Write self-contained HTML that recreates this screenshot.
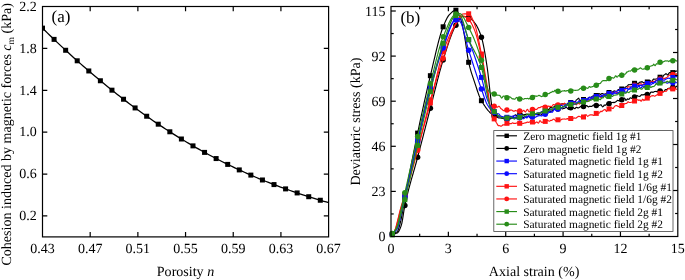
<!DOCTYPE html>
<html>
<head>
<meta charset="utf-8">
<title>Cohesion vs porosity and deviatoric stress vs axial strain</title>
<style>
html, body { margin: 0; padding: 0; background: #ffffff; }
body { width: 685px; height: 280px; overflow: hidden; }
svg { display: block; font-family: 'Liberation Serif', serif; fill: #000; will-change: transform; }
svg text { font-family: "Liberation Serif", serif; fill: #000; text-rendering: geometricPrecision; }
</style>
</head>
<body>
<svg width="685" height="280" viewBox="0 0 685 280">
<rect x="0" y="0" width="685" height="280" fill="#ffffff"/>
<g id="panelA">
<path d="M42.5 28.14 L44.9 30.51 L47.31 32.86 L49.71 35.19 L52.12 37.51 L54.52 39.81 L56.93 42.1 L59.33 44.37 L61.73 46.63 L64.14 48.87 L66.54 51.09 L68.95 53.3 L71.35 55.5 L73.75 57.68 L76.16 59.84 L78.56 61.99 L80.97 64.12 L83.37 66.24 L85.78 68.34 L88.18 70.42 L90.58 72.49 L92.99 74.55 L95.39 76.58 L97.8 78.61 L100.2 80.61 L102.61 82.6 L105.01 84.57 L107.41 86.53 L109.82 88.47 L112.22 90.4 L114.63 92.31 L117.03 94.2 L119.43 96.08 L121.84 97.94 L124.24 99.79 L126.65 101.62 L129.05 103.43 L131.46 105.23 L133.86 107.01 L136.26 108.78 L138.67 110.53 L141.07 112.26 L143.48 113.98 L145.88 115.69 L148.28 117.37 L150.69 119.04 L153.09 120.7 L155.5 122.34 L157.9 123.96 L160.31 125.57 L162.71 127.16 L165.11 128.74 L167.52 130.3 L169.92 131.84 L172.33 133.37 L174.73 134.89 L177.14 136.38 L179.54 137.87 L181.94 139.33 L184.35 140.79 L186.75 142.22 L189.16 143.65 L191.56 145.05 L193.96 146.44 L196.37 147.82 L198.77 149.18 L201.18 150.53 L203.58 151.86 L205.99 153.17 L208.39 154.48 L210.79 155.76 L213.2 157.04 L215.6 158.29 L218.01 159.54 L220.41 160.76 L222.82 161.98 L225.22 163.18 L227.62 164.36 L230.03 165.54 L232.43 166.69 L234.84 167.84 L237.24 168.97 L239.64 170.08 L242.05 171.19 L244.45 172.27 L246.86 173.35 L249.26 174.41 L251.67 175.46 L254.07 176.49 L256.47 177.52 L258.88 178.53 L261.28 179.52 L263.69 180.5 L266.09 181.48 L268.49 182.43 L270.9 183.38 L273.3 184.31 L275.71 185.23 L278.11 186.14 L280.52 187.04 L282.92 187.92 L285.32 188.8 L287.73 189.66 L290.13 190.51 L292.54 191.35 L294.94 192.17 L297.35 192.99 L299.75 193.8 L302.15 194.59 L304.56 195.37 L306.96 196.15 L309.37 196.91 L311.77 197.66 L314.17 198.41 L316.58 199.14 L318.98 199.86 L321.39 200.57 L323.79 201.28 L326.2 201.97 L328.6 202.66" fill="none" stroke="#000" stroke-width="1.3"/>
<clipPath id="clipA"><rect x="42.5" y="6.5" width="286.1" height="230.4"/></clipPath>
<g clip-path="url(#clipA)">
<rect x="40" y="25.64" width="5" height="5" fill="#000"/>
<rect x="51.58" y="36.88" width="5" height="5" fill="#000"/>
<rect x="63.15" y="47.77" width="5" height="5" fill="#000"/>
<rect x="74.72" y="58.3" width="5" height="5" fill="#000"/>
<rect x="86.3" y="68.46" width="5" height="5" fill="#000"/>
<rect x="97.88" y="78.26" width="5" height="5" fill="#000"/>
<rect x="109.45" y="87.68" width="5" height="5" fill="#000"/>
<rect x="121.03" y="96.74" width="5" height="5" fill="#000"/>
<rect x="132.6" y="105.43" width="5" height="5" fill="#000"/>
<rect x="144.18" y="113.74" width="5" height="5" fill="#000"/>
<rect x="155.75" y="121.69" width="5" height="5" fill="#000"/>
<rect x="167.33" y="129.28" width="5" height="5" fill="#000"/>
<rect x="178.9" y="136.5" width="5" height="5" fill="#000"/>
<rect x="190.48" y="143.37" width="5" height="5" fill="#000"/>
<rect x="202.05" y="149.89" width="5" height="5" fill="#000"/>
<rect x="213.63" y="156.06" width="5" height="5" fill="#000"/>
<rect x="225.2" y="161.9" width="5" height="5" fill="#000"/>
<rect x="236.78" y="167.41" width="5" height="5" fill="#000"/>
<rect x="248.35" y="172.6" width="5" height="5" fill="#000"/>
<rect x="259.93" y="177.49" width="5" height="5" fill="#000"/>
<rect x="271.5" y="182.08" width="5" height="5" fill="#000"/>
<rect x="283.08" y="186.39" width="5" height="5" fill="#000"/>
<rect x="294.65" y="190.43" width="5" height="5" fill="#000"/>
<rect x="306.23" y="194.21" width="5" height="5" fill="#000"/>
<rect x="317.8" y="197.75" width="5" height="5" fill="#000"/>
</g>
<rect x="42.5" y="6.5" width="286.1" height="230.4" fill="none" stroke="#000" stroke-width="1.2"/>
<text x="42.5" y="252.6" text-anchor="middle" font-size="14.0">0.43</text>
<path d="M90.18 236.9 v-4.8 M90.18 6.5 v4.8" stroke="#000" stroke-width="1.2"/>
<text x="90.18" y="252.6" text-anchor="middle" font-size="14.0">0.47</text>
<path d="M137.87 236.9 v-4.8 M137.87 6.5 v4.8" stroke="#000" stroke-width="1.2"/>
<text x="137.87" y="252.6" text-anchor="middle" font-size="14.0">0.51</text>
<path d="M185.55 236.9 v-4.8 M185.55 6.5 v4.8" stroke="#000" stroke-width="1.2"/>
<text x="185.55" y="252.6" text-anchor="middle" font-size="14.0">0.55</text>
<path d="M233.23 236.9 v-4.8 M233.23 6.5 v4.8" stroke="#000" stroke-width="1.2"/>
<text x="233.23" y="252.6" text-anchor="middle" font-size="14.0">0.59</text>
<path d="M280.92 236.9 v-4.8 M280.92 6.5 v4.8" stroke="#000" stroke-width="1.2"/>
<text x="280.92" y="252.6" text-anchor="middle" font-size="14.0">0.63</text>
<text x="328.6" y="252.6" text-anchor="middle" font-size="14.0">0.67</text>
<text x="36.8" y="10.8" text-anchor="end" font-size="14.0">2.2</text>
<path d="M42.5 48.39 h4.8 M328.6 48.39 h-4.8" stroke="#000" stroke-width="1.2"/>
<text x="36.8" y="52.69" text-anchor="end" font-size="14.0">1.8</text>
<path d="M42.5 90.28 h4.8 M328.6 90.28 h-4.8" stroke="#000" stroke-width="1.2"/>
<text x="36.8" y="94.58" text-anchor="end" font-size="14.0">1.4</text>
<path d="M42.5 132.17 h4.8 M328.6 132.17 h-4.8" stroke="#000" stroke-width="1.2"/>
<text x="36.8" y="136.47" text-anchor="end" font-size="14.0">1.0</text>
<path d="M42.5 174.06 h4.8 M328.6 174.06 h-4.8" stroke="#000" stroke-width="1.2"/>
<text x="36.8" y="178.36" text-anchor="end" font-size="14.0">0.6</text>
<path d="M42.5 215.95 h4.8 M328.6 215.95 h-4.8" stroke="#000" stroke-width="1.2"/>
<text x="36.8" y="220.25" text-anchor="end" font-size="14.0">0.2</text>
<text x="185.5" y="275.5" text-anchor="middle" font-size="14.05">Porosity <tspan font-style="italic">n</tspan></text>
<text transform="translate(11.2 134.3) rotate(-90)" text-anchor="middle" font-size="14.05">Cohesion induced by magnetic forces <tspan font-style="italic">c</tspan><tspan font-size="9.5" dy="2.8">m</tspan><tspan dy="-2.8"> (kPa)</tspan></text>
<text x="51.5" y="22" font-size="17.0">(a)</text>
</g>
<g id="panelB">
<clipPath id="clipB"><rect x="388" y="6.5" width="289.8" height="233"/></clipPath>
<g clip-path="url(#clipB)">
<path d="M391.2 236.4 L391.95 234.8 L392.7 233.95 L393.45 233.46 L394.2 233.12 L394.95 232.86 L395.7 232.57 L396.45 232.18 L397.2 231.6 L397.95 230.47 L398.7 228.51 L399.45 225.97 L400.2 223.15 L400.95 220.13 L401.7 216.43 L402.45 212.19 L403.2 207.69 L403.95 203.16 L404.7 198.86 L405.45 194.86 L406.2 190.89 L406.95 186.94 L407.7 183 L408.45 179.08 L409.2 175.18 L409.95 171.3 L410.7 167.44 L411.45 163.61 L412.2 159.8 L412.95 156.01 L413.7 152.25 L414.45 148.53 L415.2 144.83 L415.95 141.16 L416.7 137.52 L417.45 133.91 L418.2 130.34 L418.95 126.78 L419.7 123.24 L420.45 119.72 L421.2 116.22 L421.95 112.75 L422.7 109.3 L423.45 105.88 L424.2 102.48 L424.95 99.12 L425.7 95.78 L426.45 92.47 L427.2 89.2 L427.95 85.95 L428.7 82.75 L429.45 79.58 L430.2 76.45 L430.95 73.32 L431.7 70.15 L432.45 66.94 L433.2 63.71 L433.95 60.48 L434.7 57.26 L435.45 54.06 L436.2 50.92 L436.95 47.83 L437.7 44.82 L438.45 41.9 L439.2 39.1 L439.95 36.41 L440.7 33.88 L441.45 31.5 L442.2 29.29 L442.95 27.28 L443.7 25.42 L444.45 23.62 L445.2 21.88 L445.95 20.24 L446.7 18.72 L447.45 17.34 L448.2 16.13 L448.95 15.11 L449.7 14.3 L450.45 13.56 L451.2 12.84 L451.95 12.16 L452.7 11.55 L453.45 11.03 L454.2 10.62 L454.95 10.34 L455.7 10.21 L456.45 10.37 L457.2 11.1 L457.95 12.31 L458.7 13.89 L459.45 15.75 L460.2 17.77 L460.95 19.86 L461.7 22.32 L462.45 25.49 L463.2 29.15 L463.95 33.08 L464.7 37.09 L465.45 41.73 L466.2 46.89 L466.95 52.15 L467.7 57.1 L468.45 61.31 L469.2 64.63 L469.95 67.6 L470.7 70.3 L471.45 72.8 L472.2 75.15 L472.95 77.41 L473.7 79.62 L474.45 81.85 L475.2 84.13 L475.95 86.44 L476.7 88.75 L477.45 91.01 L478.2 93.18 L478.95 95.24 L479.7 97.14 L480.45 98.85 L481.2 100.32 L481.95 101.59 L482.7 102.81 L483.45 104.01 L484.2 105.17 L484.95 106.29 L485.7 107.37 L486.45 108.4 L487.2 109.38 L487.95 110.31 L488.7 111.18 L489.45 111.98 L490.2 112.72 L490.95 113.39 L491.7 113.99 L492.45 114.51 L493.2 114.95 L493.95 115.31 L494.7 115.6 L495.45 115.87 L496.2 116.14 L496.95 116.4 L497.7 116.24 L498.45 116.24 L499.2 116.16 L499.95 116.76 L500.7 117.79 L501.45 118.2 L502.2 118.32 L502.95 118.04 L503.7 117.59 L504.45 117.63 L505.2 117.83 L505.95 118.02 L506.7 118.01 L507.45 117.63 L508.2 117.13 L508.95 117.71 L509.7 118.43 L510.45 117.5 L511.2 116.78 L511.95 117.49 L512.7 117.39 L513.45 116.15 L514.2 115.63 L514.95 115.14 L515.7 114.81 L516.45 115.42 L517.2 115.49 L517.95 114.91 L518.7 114.66 L519.45 114.72 L520.2 114.55 L520.95 114.17 L521.7 113.67 L522.45 114.01 L523.2 114.86 L523.95 114.74 L524.7 114.56 L525.45 114.46 L526.2 114.1 L526.95 114.24 L527.7 114.58 L528.45 114.39 L529.2 114.23 L529.95 114.66 L530.7 115.18 L531.45 115.09 L532.2 114.47 L532.95 113.56 L533.7 113.39 L534.45 114.35 L535.2 114.55 L535.95 113.95 L536.7 113.9 L537.45 114.03 L538.2 113.92 L538.95 113.36 L539.7 112.92 L540.45 112.61 L541.2 111.94 L541.95 111.98 L542.7 112.21 L543.45 112.34 L544.2 112.65 L544.95 111.72 L545.7 109.75 L546.45 109.16 L547.2 109.64 L547.95 109.32 L548.7 109.34 L549.45 109.12 L550.2 107.55 L550.95 106.97 L551.7 107.82 L552.45 107.99 L553.2 107.57 L553.95 107.11 L554.7 106.23 L555.45 105.71 L556.2 105.8 L556.95 105.28 L557.7 105.04 L558.45 105.66 L559.2 105.85 L559.95 105.34 L560.7 104.56 L561.45 104.04 L562.2 103.76 L562.95 103.82 L563.7 103.98 L564.45 103.85 L565.2 104.01 L565.95 104.59 L566.7 104.38 L567.45 103.38 L568.2 103.23 L568.95 103.15 L569.7 102.32 L570.45 101.63 L571.2 101.93 L571.95 102.47 L572.7 102.21 L573.45 101.79 L574.2 101.86 L574.95 102.07 L575.7 101.04 L576.45 99.74 L577.2 99.45 L577.95 98.63 L578.7 98.15 L579.45 99.67 L580.2 100.94 L580.95 100.22 L581.7 99.06 L582.45 99.24 L583.2 99.99 L583.95 99.8 L584.7 99.22 L585.45 98.93 L586.2 98.94 L586.95 99.09 L587.7 98.82 L588.45 97.96 L589.2 97.35 L589.95 97.28 L590.7 97.29 L591.45 97.04 L592.2 96.28 L592.95 96.05 L593.7 95.83 L594.45 95.76 L595.2 96.8 L595.95 96.75 L596.7 95.75 L597.45 95.6 L598.2 94.7 L598.95 93.53 L599.7 94.03 L600.45 94.53 L601.2 94.03 L601.95 93.47 L602.7 93.46 L603.45 93.95 L604.2 94.34 L604.95 93.98 L605.7 93.81 L606.45 93.82 L607.2 92.95 L607.95 91.88 L608.7 91.89 L609.45 93.03 L610.2 93.44 L610.95 92.99 L611.7 92.49 L612.45 91.95 L613.2 91.53 L613.95 91.13 L614.7 90.9 L615.45 91.27 L616.2 91.69 L616.95 91.19 L617.7 90.22 L618.45 89.53 L619.2 89.76 L619.95 90.46 L620.7 90.11 L621.45 89.19 L622.2 88.37 L622.95 87.82 L623.7 88.12 L624.45 88.22 L625.2 87.44 L625.95 86.78 L626.7 86.52 L627.45 85.81 L628.2 84.92 L628.95 84.63 L629.7 84.76 L630.45 84.73 L631.2 84.33 L631.95 84.57 L632.7 84.7 L633.45 83.62 L634.2 82.99 L634.95 83.17 L635.7 82.9 L636.45 82.6 L637.2 83.49 L637.95 84.06 L638.7 83.17 L639.45 82.27 L640.2 82.14 L640.95 82.18 L641.7 81.67 L642.45 81.92 L643.2 82.62 L643.95 82.56 L644.7 83.11 L645.45 83.48 L646.2 82.89 L646.95 82.98 L647.7 83.12 L648.45 82.04 L649.2 80.81 L649.95 80.45 L650.7 81.17 L651.45 81.95 L652.2 81.24 L652.95 79.74 L653.7 79.04 L654.45 79.15 L655.2 79.23 L655.95 78.95 L656.7 78.74 L657.45 78.4 L658.2 77.84 L658.95 77.58 L659.7 77.42 L660.45 77.21 L661.2 77.56 L661.95 77.85 L662.7 77.09 L663.45 75.66 L664.2 74.83 L664.95 74.57 L665.7 73.71 L666.45 73.72 L667.2 74.82 L667.95 74.85 L668.7 73.63 L669.45 72.62 L670.2 72.59 L670.95 72.9 L671.7 73.76 L672.45 74.22 L673.2 73.02 L673.95 71.55 L674.7 71.14 L675.45 71.41 L676.2 71.17 L676.95 70.71" fill="none" stroke="#000000" stroke-width="1.15" stroke-linejoin="round"/>
<rect x="389.8" y="231.8" width="5" height="5" fill="#000000"/>
<rect x="402.36" y="195.5" width="5" height="5" fill="#000000"/>
<rect x="415.12" y="130.6" width="5" height="5" fill="#000000"/>
<rect x="427.88" y="73.2" width="5" height="5" fill="#000000"/>
<rect x="440.64" y="24.3" width="5" height="5" fill="#000000"/>
<rect x="453.4" y="7.7" width="5" height="5" fill="#000000"/>
<rect x="466.16" y="59.8" width="5" height="5" fill="#000000"/>
<rect x="478.92" y="98.2" width="5" height="5" fill="#000000"/>
<rect x="491.68" y="112.9" width="5" height="5" fill="#000000"/>
<rect x="504.44" y="115.8" width="5" height="5" fill="#000000"/>
<rect x="517.2" y="112.3" width="5" height="5" fill="#000000"/>
<rect x="529.96" y="111.7" width="5" height="5" fill="#000000"/>
<rect x="542.72" y="108.1" width="5" height="5" fill="#000000"/>
<rect x="555.48" y="103.5" width="5" height="5" fill="#000000"/>
<rect x="568.24" y="100" width="5" height="5" fill="#000000"/>
<rect x="581" y="97" width="5" height="5" fill="#000000"/>
<rect x="593.76" y="93" width="5" height="5" fill="#000000"/>
<rect x="606.52" y="90" width="5" height="5" fill="#000000"/>
<rect x="619.28" y="86.5" width="5" height="5" fill="#000000"/>
<rect x="632.04" y="80.8" width="5" height="5" fill="#000000"/>
<rect x="644.8" y="79.5" width="5" height="5" fill="#000000"/>
<rect x="657.56" y="74.7" width="5" height="5" fill="#000000"/>
<rect x="670.32" y="70.1" width="5" height="5" fill="#000000"/>
<path d="M391.2 236.4 L391.95 234.72 L392.7 234.11 L393.45 233.85 L394.2 233.69 L394.95 233.58 L395.7 233.47 L396.45 233.31 L397.2 233.05 L397.95 232.49 L398.7 231.46 L399.45 230.01 L400.2 228.24 L400.95 226.21 L401.7 223.86 L402.45 220.13 L403.2 215.44 L403.95 210.53 L404.7 206.18 L405.45 202.68 L406.2 199.36 L406.95 196.18 L407.7 193.12 L408.45 190.18 L409.2 187.33 L409.95 184.56 L410.7 181.85 L411.45 179.2 L412.2 176.57 L412.95 173.97 L413.7 171.38 L414.45 168.77 L415.2 166.14 L415.95 163.47 L416.7 160.74 L417.45 157.95 L418.2 155.09 L418.95 152.22 L419.7 149.34 L420.45 146.46 L421.2 143.57 L421.95 140.68 L422.7 137.78 L423.45 134.88 L424.2 131.98 L424.95 129.08 L425.7 126.18 L426.45 123.29 L427.2 120.4 L427.95 117.51 L428.7 114.63 L429.45 111.75 L430.2 108.89 L430.95 106.01 L431.7 103.1 L432.45 100.16 L433.2 97.19 L433.95 94.21 L434.7 91.23 L435.45 88.24 L436.2 85.27 L436.95 82.33 L437.7 79.41 L438.45 76.53 L439.2 73.71 L439.95 70.93 L440.7 68.23 L441.45 65.6 L442.2 63.06 L442.95 60.61 L443.7 58.22 L444.45 55.83 L445.2 53.44 L445.95 51.06 L446.7 48.69 L447.45 46.36 L448.2 44.06 L448.95 41.82 L449.7 39.63 L450.45 37.52 L451.2 35.48 L451.95 33.54 L452.7 31.7 L453.45 29.96 L454.2 28.35 L454.95 26.87 L455.7 25.53 L456.45 24.29 L457.2 23.02 L457.95 21.75 L458.7 20.53 L459.45 19.4 L460.2 18.4 L460.95 17.57 L461.7 16.95 L462.45 16.58 L463.2 16.5 L463.95 16.53 L464.7 16.6 L465.45 16.7 L466.2 16.83 L466.95 16.98 L467.7 17.15 L468.45 17.34 L469.2 17.59 L469.95 17.97 L470.7 18.5 L471.45 19.14 L472.2 19.89 L472.95 20.73 L473.7 21.63 L474.45 22.59 L475.2 23.59 L475.95 24.64 L476.7 25.84 L477.45 27.2 L478.2 28.72 L478.95 30.41 L479.7 32.28 L480.45 34.31 L481.2 36.52 L481.95 38.99 L482.7 41.96 L483.45 45.38 L484.2 49.21 L484.95 53.38 L485.7 57.85 L486.45 62.56 L487.2 67.47 L487.95 73.24 L488.7 79.88 L489.45 86.82 L490.2 93.52 L490.95 99.64 L491.7 105.72 L492.45 110.22 L493.2 113.32 L493.95 115.35 L494.7 115.91 L495.45 116.34 L496.2 116.72 L496.95 117.07 L497.7 117.4 L498.45 117.85 L499.2 117.98 L499.95 117.9 L500.7 117.6 L501.45 117.69 L502.2 118.08 L502.95 118.44 L503.7 118.81 L504.45 118.59 L505.2 118.21 L505.95 118.27 L506.7 118.09 L507.45 118.19 L508.2 118.05 L508.95 117.71 L509.7 118.39 L510.45 118.87 L511.2 118.56 L511.95 118.24 L512.7 117.93 L513.45 117.69 L514.2 117.73 L514.95 117.83 L515.7 117.63 L516.45 117.37 L517.2 117.68 L517.95 117.84 L518.7 117.46 L519.45 117.4 L520.2 117.16 L520.95 116.71 L521.7 117.14 L522.45 117.54 L523.2 117.46 L523.95 117.16 L524.7 116.64 L525.45 116.74 L526.2 117.22 L526.95 117.21 L527.7 116.46 L528.45 115.92 L529.2 116.67 L529.95 117.46 L530.7 117.23 L531.45 116.14 L532.2 115.5 L532.95 115.97 L533.7 115.24 L534.45 114.26 L535.2 114.52 L535.95 114.15 L536.7 113.72 L537.45 114.47 L538.2 115.05 L538.95 114.62 L539.7 114.7 L540.45 115.43 L541.2 115.05 L541.95 113.79 L542.7 112.72 L543.45 112.04 L544.2 112.17 L544.95 112.73 L545.7 112.74 L546.45 112.6 L547.2 112.29 L547.95 111.52 L548.7 111.41 L549.45 111.77 L550.2 111.81 L550.95 111.61 L551.7 110.94 L552.45 110.32 L553.2 109.9 L553.95 108.93 L554.7 108.62 L555.45 109.33 L556.2 109.53 L556.95 108.85 L557.7 108.07 L558.45 108.09 L559.2 108.16 L559.95 107.47 L560.7 107.07 L561.45 108.02 L562.2 109.03 L562.95 108.74 L563.7 108.15 L564.45 108.35 L565.2 107.91 L565.95 106.83 L566.7 107.45 L567.45 108.54 L568.2 109.03 L568.95 109.42 L569.7 109.09 L570.45 108.4 L571.2 108.23 L571.95 108.06 L572.7 107.52 L573.45 107.62 L574.2 108.52 L574.95 108.71 L575.7 107.77 L576.45 107.24 L577.2 107.66 L577.95 107.91 L578.7 107.81 L579.45 107.52 L580.2 106.72 L580.95 106.4 L581.7 106.82 L582.45 107.37 L583.2 107.01 L583.95 105.75 L584.7 105.65 L585.45 106.18 L586.2 105.67 L586.95 105.56 L587.7 106.54 L588.45 106.9 L589.2 106.41 L589.95 106.23 L590.7 106.39 L591.45 106.41 L592.2 106.18 L592.95 105.38 L593.7 105.08 L594.45 105.36 L595.2 105.46 L595.95 105.79 L596.7 105.53 L597.45 104.95 L598.2 104.97 L598.95 105.28 L599.7 105.35 L600.45 104.8 L601.2 104.84 L601.95 106.01 L602.7 106.88 L603.45 106.39 L604.2 105.17 L604.95 104.97 L605.7 105.17 L606.45 104.25 L607.2 103.48 L607.95 103.82 L608.7 103.81 L609.45 102.81 L610.2 101.89 L610.95 102.18 L611.7 102.81 L612.45 102.55 L613.2 102.36 L613.95 102.6 L614.7 102.41 L615.45 101.97 L616.2 101.52 L616.95 100.86 L617.7 100.32 L618.45 100.45 L619.2 100.9 L619.95 100.42 L620.7 99.58 L621.45 99.42 L622.2 99.66 L622.95 99.38 L623.7 98.33 L624.45 98 L625.2 99.16 L625.95 100.35 L626.7 99.81 L627.45 98.83 L628.2 99.2 L628.95 99.38 L629.7 98.27 L630.45 97.84 L631.2 98.32 L631.95 98.25 L632.7 97.66 L633.45 97.57 L634.2 98.39 L634.95 98.47 L635.7 97.65 L636.45 96.49 L637.2 95.6 L637.95 95.96 L638.7 96.28 L639.45 96.33 L640.2 96.22 L640.95 95.2 L641.7 94.6 L642.45 94.92 L643.2 94.85 L643.95 94.54 L644.7 94.43 L645.45 93.8 L646.2 93.6 L646.95 94.59 L647.7 95.1 L648.45 95.38 L649.2 95.37 L649.95 93.81 L650.7 92.3 L651.45 92.01 L652.2 92.08 L652.95 92.34 L653.7 92.07 L654.45 91.51 L655.2 91.5 L655.95 91.41 L656.7 91.57 L657.45 91.58 L658.2 91.2 L658.95 90.93 L659.7 90.51 L660.45 89.83 L661.2 89.46 L661.95 90.39 L662.7 91.73 L663.45 91.92 L664.2 91.2 L664.95 90.06 L665.7 89.49 L666.45 89.65 L667.2 89.18 L667.95 88.48 L668.7 88.24 L669.45 88.04 L670.2 87.74 L670.95 87.31 L671.7 86.85 L672.45 87.52 L673.2 88.36 L673.95 87.56 L674.7 86.85 L675.45 87.12 L676.2 86.76 L676.95 85.94" fill="none" stroke="#000000" stroke-width="1.15" stroke-linejoin="round"/>
<circle cx="392.3" cy="234.3" r="2.75" fill="#000000"/>
<circle cx="404.86" cy="205.4" r="2.75" fill="#000000"/>
<circle cx="417.62" cy="157.3" r="2.75" fill="#000000"/>
<circle cx="430.38" cy="108.2" r="2.75" fill="#000000"/>
<circle cx="443.14" cy="60" r="2.75" fill="#000000"/>
<circle cx="455.9" cy="25.2" r="2.75" fill="#000000"/>
<circle cx="468.66" cy="17.4" r="2.75" fill="#000000"/>
<circle cx="481.42" cy="37.2" r="2.75" fill="#000000"/>
<circle cx="494.18" cy="115.6" r="2.75" fill="#000000"/>
<circle cx="506.94" cy="119" r="2.75" fill="#000000"/>
<circle cx="519.7" cy="117.5" r="2.75" fill="#000000"/>
<circle cx="532.46" cy="116" r="2.75" fill="#000000"/>
<circle cx="545.22" cy="112.5" r="2.75" fill="#000000"/>
<circle cx="557.98" cy="109" r="2.75" fill="#000000"/>
<circle cx="570.74" cy="107.8" r="2.75" fill="#000000"/>
<circle cx="583.5" cy="106.6" r="2.75" fill="#000000"/>
<circle cx="596.26" cy="105.5" r="2.75" fill="#000000"/>
<circle cx="609.02" cy="103.7" r="2.75" fill="#000000"/>
<circle cx="621.78" cy="99.8" r="2.75" fill="#000000"/>
<circle cx="634.54" cy="96.9" r="2.75" fill="#000000"/>
<circle cx="647.3" cy="94.4" r="2.75" fill="#000000"/>
<circle cx="660.06" cy="90.9" r="2.75" fill="#000000"/>
<circle cx="672.82" cy="87.3" r="2.75" fill="#000000"/>
<path d="M391.2 236.4 L391.95 234.94 L392.7 233.65 L393.45 232.58 L394.2 231.5 L394.95 230.11 L395.7 227.99 L396.45 225.18 L397.2 222.18 L397.95 219.21 L398.7 216.03 L399.45 212.85 L400.2 209.87 L400.95 207.19 L401.7 204.68 L402.45 202.27 L403.2 199.91 L403.95 197.52 L404.7 195.05 L405.45 192.46 L406.2 189.84 L406.95 187.18 L407.7 184.49 L408.45 181.77 L409.2 179.03 L409.95 176.27 L410.7 173.5 L411.45 170.72 L412.2 167.93 L412.95 165.14 L413.7 162.35 L414.45 159.57 L415.2 156.8 L415.95 154.05 L416.7 151.32 L417.45 148.61 L418.2 145.93 L418.95 143.28 L419.7 140.64 L420.45 138.03 L421.2 135.43 L421.95 132.84 L422.7 130.25 L423.45 127.67 L424.2 125.08 L424.95 122.48 L425.7 119.87 L426.45 117.24 L427.2 114.59 L427.95 111.91 L428.7 109.2 L429.45 106.46 L430.2 103.67 L430.95 100.82 L431.7 97.84 L432.45 94.75 L433.2 91.58 L433.95 88.34 L434.7 85.06 L435.45 81.75 L436.2 78.45 L436.95 75.17 L437.7 71.94 L438.45 68.77 L439.2 65.69 L439.95 62.72 L440.7 59.87 L441.45 57.19 L442.2 54.67 L442.95 52.35 L443.7 50.2 L444.45 48.12 L445.2 46.08 L445.95 44.11 L446.7 42.19 L447.45 40.32 L448.2 38.51 L448.95 36.76 L449.7 35.06 L450.45 33.42 L451.2 31.84 L451.95 30.31 L452.7 28.84 L453.45 27.43 L454.2 26.07 L454.95 24.77 L455.7 23.52 L456.45 22.3 L457.2 21.01 L457.95 19.71 L458.7 18.44 L459.45 17.24 L460.2 16.16 L460.95 15.25 L461.7 14.56 L462.45 14.13 L463.2 13.99 L463.95 13.94 L464.7 13.9 L465.45 13.87 L466.2 13.84 L466.95 13.82 L467.7 13.81 L468.45 13.8 L469.2 13.93 L469.95 14.53 L470.7 15.52 L471.45 16.85 L472.2 18.42 L472.95 20.17 L473.7 22.01 L474.45 23.88 L475.2 25.94 L475.95 28.45 L476.7 31.35 L477.45 34.56 L478.2 38.02 L478.95 41.65 L479.7 45.4 L480.45 49.17 L481.2 52.92 L481.95 56.63 L482.7 60.47 L483.45 64.44 L484.2 68.55 L484.95 72.77 L485.7 77.12 L486.45 81.57 L487.2 86.14 L487.95 91.05 L488.7 96.87 L489.45 102.85 L490.2 108.13 L490.95 111.83 L491.7 114.05 L492.45 115.81 L493.2 117.26 L493.95 118.52 L494.7 119.77 L495.45 121.06 L496.2 122.33 L496.95 123.5 L497.7 125 L498.45 125.72 L499.2 125.55 L499.95 125.79 L500.7 126.16 L501.45 126.19 L502.2 125.51 L502.95 124.77 L503.7 124.92 L504.45 124.84 L505.2 124.26 L505.95 123.66 L506.7 122.56 L507.45 122.21 L508.2 123.4 L508.95 123.99 L509.7 123.6 L510.45 123.67 L511.2 123.77 L511.95 123.14 L512.7 122.72 L513.45 123.33 L514.2 123.52 L514.95 123.19 L515.7 123.4 L516.45 122.97 L517.2 122.86 L517.95 123.67 L518.7 123.23 L519.45 122.44 L520.2 122.99 L520.95 124.03 L521.7 124.04 L522.45 123.38 L523.2 123.41 L523.95 123.36 L524.7 122.87 L525.45 122.85 L526.2 122.67 L526.95 122.19 L527.7 122.12 L528.45 122.33 L529.2 122.2 L529.95 121.81 L530.7 122.07 L531.45 122.64 L532.2 122.7 L532.95 122.86 L533.7 123.01 L534.45 123.19 L535.2 123.06 L535.95 122.22 L536.7 121.92 L537.45 122.33 L538.2 123.16 L538.95 122.63 L539.7 120.78 L540.45 120.74 L541.2 121.94 L541.95 122.42 L542.7 122.16 L543.45 121.8 L544.2 121.88 L544.95 121.89 L545.7 121.79 L546.45 121.22 L547.2 120.43 L547.95 120.58 L548.7 120.93 L549.45 121.15 L550.2 120.76 L550.95 120.31 L551.7 120.36 L552.45 119.89 L553.2 119.23 L553.95 119.19 L554.7 119.91 L555.45 120.68 L556.2 120.69 L556.95 120.42 L557.7 120.38 L558.45 120.02 L559.2 119.78 L559.95 120.18 L560.7 120.17 L561.45 119.47 L562.2 119.08 L562.95 119.15 L563.7 118.96 L564.45 118.94 L565.2 119.27 L565.95 119.18 L566.7 118.83 L567.45 118.61 L568.2 118.85 L568.95 118.89 L569.7 119.05 L570.45 119.65 L571.2 119.72 L571.95 119.74 L572.7 119.14 L573.45 118.01 L574.2 117.86 L574.95 118.22 L575.7 118.16 L576.45 117.88 L577.2 117.18 L577.95 116.59 L578.7 116.41 L579.45 116.37 L580.2 116.86 L580.95 116.88 L581.7 116.61 L582.45 116.92 L583.2 116.74 L583.95 115.71 L584.7 115.1 L585.45 114.96 L586.2 114.73 L586.95 115.59 L587.7 116.39 L588.45 115.89 L589.2 115.32 L589.95 114.91 L590.7 114.88 L591.45 114.83 L592.2 114.74 L592.95 115.26 L593.7 115.42 L594.45 114.61 L595.2 113.59 L595.95 113.15 L596.7 113.25 L597.45 113.27 L598.2 113.14 L598.95 113.19 L599.7 112.63 L600.45 111.24 L601.2 111.2 L601.95 111.71 L602.7 110.94 L603.45 110.21 L604.2 109.8 L604.95 109.46 L605.7 110.37 L606.45 111.46 L607.2 110.5 L607.95 108.69 L608.7 108.09 L609.45 108.58 L610.2 108.77 L610.95 107.97 L611.7 107.77 L612.45 108.49 L613.2 108.38 L613.95 107.28 L614.7 106.21 L615.45 105.81 L616.2 105.55 L616.95 105.58 L617.7 106.24 L618.45 106.42 L619.2 106.85 L619.95 107.54 L620.7 106.68 L621.45 105.53 L622.2 105.86 L622.95 105.81 L623.7 104.51 L624.45 103.83 L625.2 103.56 L625.95 103.54 L626.7 103.47 L627.45 102.23 L628.2 101.82 L628.95 102.38 L629.7 102.46 L630.45 102.45 L631.2 102.21 L631.95 102.08 L632.7 101.54 L633.45 100.44 L634.2 100.3 L634.95 100.53 L635.7 100.63 L636.45 100.42 L637.2 99.71 L637.95 99.78 L638.7 100.37 L639.45 100.08 L640.2 99.99 L640.95 101.15 L641.7 100.85 L642.45 99.16 L643.2 99.55 L643.95 100.64 L644.7 99.96 L645.45 98.87 L646.2 98.19 L646.95 97.78 L647.7 97.56 L648.45 97.6 L649.2 97.67 L649.95 97.13 L650.7 96.31 L651.45 95.92 L652.2 95.83 L652.95 95.6 L653.7 95.81 L654.45 96.21 L655.2 95.91 L655.95 95.46 L656.7 95.04 L657.45 94.48 L658.2 93.95 L658.95 93.81 L659.7 93.57 L660.45 93.24 L661.2 93.44 L661.95 92.9 L662.7 91.89 L663.45 91.49 L664.2 91.41 L664.95 91.31 L665.7 91.3 L666.45 91.28 L667.2 90.04 L667.95 88.83 L668.7 88.65 L669.45 88.66 L670.2 89.46 L670.95 90.26 L671.7 89.54 L672.45 88.23 L673.2 88.48 L673.95 89.43 L674.7 89.02 L675.45 88.52 L676.2 89.21 L676.95 89.4" fill="none" stroke="#ff1414" stroke-width="1.15" stroke-linejoin="round"/>
<rect x="389.8" y="231.8" width="5" height="5" fill="#ff1414"/>
<rect x="402.36" y="192" width="5" height="5" fill="#ff1414"/>
<rect x="415.12" y="145.5" width="5" height="5" fill="#ff1414"/>
<rect x="427.88" y="100.5" width="5" height="5" fill="#ff1414"/>
<rect x="440.64" y="49.3" width="5" height="5" fill="#ff1414"/>
<rect x="466.16" y="11.3" width="5" height="5" fill="#ff1414"/>
<rect x="478.92" y="51.5" width="5" height="5" fill="#ff1414"/>
<rect x="491.68" y="116.4" width="5" height="5" fill="#ff1414"/>
<rect x="504.44" y="120.8" width="5" height="5" fill="#ff1414"/>
<rect x="517.2" y="120.8" width="5" height="5" fill="#ff1414"/>
<rect x="529.96" y="119.5" width="5" height="5" fill="#ff1414"/>
<rect x="542.72" y="118.9" width="5" height="5" fill="#ff1414"/>
<rect x="555.48" y="117.3" width="5" height="5" fill="#ff1414"/>
<rect x="568.24" y="116" width="5" height="5" fill="#ff1414"/>
<rect x="581" y="114.5" width="5" height="5" fill="#ff1414"/>
<rect x="593.76" y="110.9" width="5" height="5" fill="#ff1414"/>
<rect x="606.52" y="106.4" width="5" height="5" fill="#ff1414"/>
<rect x="619.28" y="103" width="5" height="5" fill="#ff1414"/>
<rect x="632.04" y="98.5" width="5" height="5" fill="#ff1414"/>
<rect x="644.8" y="95.6" width="5" height="5" fill="#ff1414"/>
<rect x="657.56" y="90.9" width="5" height="5" fill="#ff1414"/>
<rect x="670.32" y="86.4" width="5" height="5" fill="#ff1414"/>
<path d="M391.2 236.4 L391.95 234.92 L392.7 233.69 L393.45 232.75 L394.2 231.81 L394.95 230.6 L395.7 228.7 L396.45 226.13 L397.2 223.36 L397.95 220.53 L398.7 217.44 L399.45 214.31 L400.2 211.37 L400.95 208.71 L401.7 206.2 L402.45 203.78 L403.2 201.41 L403.95 199.01 L404.7 196.54 L405.45 193.98 L406.2 191.4 L406.95 188.81 L407.7 186.2 L408.45 183.57 L409.2 180.92 L409.95 178.26 L410.7 175.59 L411.45 172.89 L412.2 170.19 L412.95 167.47 L413.7 164.73 L414.45 161.98 L415.2 159.21 L415.95 156.44 L416.7 153.64 L417.45 150.84 L418.2 148 L418.95 145.11 L419.7 142.18 L420.45 139.2 L421.2 136.19 L421.95 133.15 L422.7 130.1 L423.45 127.05 L424.2 123.99 L424.95 120.95 L425.7 117.93 L426.45 114.93 L427.2 111.97 L427.95 109.05 L428.7 106.18 L429.45 103.38 L430.2 100.64 L430.95 97.97 L431.7 95.33 L432.45 92.7 L433.2 90.11 L433.95 87.54 L434.7 84.99 L435.45 82.48 L436.2 79.99 L436.95 77.52 L437.7 75.09 L438.45 72.68 L439.2 70.31 L439.95 67.96 L440.7 65.64 L441.45 63.35 L442.2 61.09 L442.95 58.86 L443.7 56.64 L444.45 54.38 L445.2 52.09 L445.95 49.79 L446.7 47.49 L447.45 45.2 L448.2 42.93 L448.95 40.7 L449.7 38.52 L450.45 36.41 L451.2 34.37 L451.95 32.42 L452.7 30.58 L453.45 28.86 L454.2 27.26 L454.95 25.81 L455.7 24.52 L456.45 23.33 L457.2 22.13 L457.95 20.93 L458.7 19.78 L459.45 18.72 L460.2 17.78 L460.95 17 L461.7 16.42 L462.45 16.08 L463.2 16.01 L463.95 16.14 L464.7 16.43 L465.45 16.85 L466.2 17.37 L466.95 17.97 L467.7 18.62 L468.45 19.31 L469.2 20.05 L469.95 20.99 L470.7 22.11 L471.45 23.41 L472.2 24.85 L472.95 26.42 L473.7 28.1 L474.45 29.88 L475.2 31.85 L475.95 34.12 L476.7 36.67 L477.45 39.46 L478.2 42.45 L478.95 45.61 L479.7 48.91 L480.45 52.31 L481.2 55.78 L481.95 59.4 L482.7 63.46 L483.45 67.84 L484.2 72.44 L484.95 77.12 L485.7 81.77 L486.45 86.24 L487.2 90.43 L487.95 94.5 L488.7 99.09 L489.45 103.2 L490.2 105.71 L490.95 106.06 L491.7 106.13 L492.45 106.18 L493.2 106.22 L493.95 106.28 L494.7 106.37 L495.45 106.51 L496.2 106.69 L496.95 106.91 L497.7 107.25 L498.45 106.3 L499.2 106.21 L499.95 107.29 L500.7 108.53 L501.45 108.88 L502.2 109.47 L502.95 110.27 L503.7 110.78 L504.45 110.61 L505.2 109.96 L505.95 109.84 L506.7 110.11 L507.45 110.13 L508.2 109.97 L508.95 110.58 L509.7 110.79 L510.45 110.01 L511.2 109.92 L511.95 110.18 L512.7 110.71 L513.45 111.18 L514.2 111.14 L514.95 110.74 L515.7 110.44 L516.45 110.84 L517.2 111.01 L517.95 111.11 L518.7 110.45 L519.45 109.29 L520.2 109.81 L520.95 111.22 L521.7 111.85 L522.45 111.45 L523.2 110.55 L523.95 110.32 L524.7 111.46 L525.45 111.88 L526.2 110.81 L526.95 109.67 L527.7 109.41 L528.45 110.81 L529.2 111.85 L529.95 111.29 L530.7 110.72 L531.45 109.93 L532.2 109.41 L532.95 109.46 L533.7 108.85 L534.45 108.73 L535.2 109.34 L535.95 109.57 L536.7 109.35 L537.45 108.76 L538.2 107.84 L538.95 107.47 L539.7 107.74 L540.45 107.39 L541.2 106.72 L541.95 106.66 L542.7 106.6 L543.45 106.06 L544.2 105.75 L544.95 106.11 L545.7 106.97 L546.45 107.91 L547.2 107.74 L547.95 106.29 L548.7 106.05 L549.45 106.69 L550.2 106.31 L550.95 106.33 L551.7 106.7 L552.45 105.74 L553.2 104.51 L553.95 104.51 L554.7 105.24 L555.45 105.09 L556.2 104.14 L556.95 104.22 L557.7 105.11 L558.45 105.15 L559.2 104.78 L559.95 105.09 L560.7 104.71 L561.45 103.75 L562.2 104.09 L562.95 104.6 L563.7 103.78 L564.45 103.12 L565.2 103.98 L565.95 105.28 L566.7 104.94 L567.45 104.37 L568.2 104.92 L568.95 104.71 L569.7 104.85 L570.45 105.46 L571.2 105.09 L571.95 104.1 L572.7 103.52 L573.45 103.65 L574.2 102.75 L574.95 102.7 L575.7 104.42 L576.45 104.86 L577.2 103.93 L577.95 103.17 L578.7 103.57 L579.45 104.08 L580.2 103.44 L580.95 102 L581.7 100.97 L582.45 100.44 L583.2 99.52 L583.95 99.53 L584.7 100.16 L585.45 100.06 L586.2 100.01 L586.95 100.6 L587.7 101.34 L588.45 100.93 L589.2 100.1 L589.95 99.62 L590.7 98.73 L591.45 98.52 L592.2 98.5 L592.95 97.67 L593.7 97.07 L594.45 96.93 L595.2 97.65 L595.95 98.02 L596.7 97.18 L597.45 96.55 L598.2 95.94 L598.95 95.28 L599.7 95.74 L600.45 97.3 L601.2 97.86 L601.95 96.56 L602.7 95.59 L603.45 95.6 L604.2 95.56 L604.95 95.6 L605.7 95.46 L606.45 95.23 L607.2 94.9 L607.95 94.2 L608.7 93.41 L609.45 92.89 L610.2 92.78 L610.95 92.75 L611.7 92.78 L612.45 92.79 L613.2 93.06 L613.95 92.84 L614.7 91.87 L615.45 91.45 L616.2 91.82 L616.95 92.79 L617.7 93.36 L618.45 92.59 L619.2 91.97 L619.95 91.59 L620.7 91.04 L621.45 91.04 L622.2 89.83 L622.95 89.27 L623.7 91.09 L624.45 90.94 L625.2 89.15 L625.95 88.6 L626.7 88.43 L627.45 87.66 L628.2 86.7 L628.95 86.64 L629.7 87.07 L630.45 87.17 L631.2 87.01 L631.95 86.99 L632.7 86.82 L633.45 85.78 L634.2 84.68 L634.95 83.78 L635.7 84.14 L636.45 85.03 L637.2 84.79 L637.95 84.73 L638.7 84.46 L639.45 83.87 L640.2 83.87 L640.95 83.92 L641.7 84.17 L642.45 84.77 L643.2 84.65 L643.95 83.77 L644.7 83.49 L645.45 83.86 L646.2 84.19 L646.95 85.05 L647.7 85.63 L648.45 84.66 L649.2 83.43 L649.95 82.69 L650.7 82.01 L651.45 81.49 L652.2 81.31 L652.95 81.31 L653.7 81.48 L654.45 81.49 L655.2 80.91 L655.95 80.1 L656.7 80.06 L657.45 80.74 L658.2 80.96 L658.95 80.78 L659.7 80.49 L660.45 79.85 L661.2 79.07 L661.95 79.41 L662.7 79.43 L663.45 78.18 L664.2 78.3 L664.95 78.64 L665.7 77.9 L666.45 77.61 L667.2 77.19 L667.95 76.28 L668.7 75.73 L669.45 75.1 L670.2 74.61 L670.95 74.59 L671.7 74.73 L672.45 74.88 L673.2 74.38 L673.95 74.15 L674.7 75.12 L675.45 75.29 L676.2 74.3 L676.95 73.46" fill="none" stroke="#ff1414" stroke-width="1.15" stroke-linejoin="round"/>
<circle cx="392.3" cy="234.3" r="2.75" fill="#ff1414"/>
<circle cx="404.86" cy="196" r="2.75" fill="#ff1414"/>
<circle cx="417.62" cy="150.2" r="2.75" fill="#ff1414"/>
<circle cx="430.38" cy="100" r="2.75" fill="#ff1414"/>
<circle cx="443.14" cy="58.3" r="2.75" fill="#ff1414"/>
<circle cx="468.66" cy="19.5" r="2.75" fill="#ff1414"/>
<circle cx="481.42" cy="56.8" r="2.75" fill="#ff1414"/>
<circle cx="494.18" cy="106.3" r="2.75" fill="#ff1414"/>
<circle cx="506.94" cy="110.1" r="2.75" fill="#ff1414"/>
<circle cx="519.7" cy="110.9" r="2.75" fill="#ff1414"/>
<circle cx="532.46" cy="109.4" r="2.75" fill="#ff1414"/>
<circle cx="545.22" cy="107.3" r="2.75" fill="#ff1414"/>
<circle cx="557.98" cy="104.9" r="2.75" fill="#ff1414"/>
<circle cx="570.74" cy="104.2" r="2.75" fill="#ff1414"/>
<circle cx="583.5" cy="101.2" r="2.75" fill="#ff1414"/>
<circle cx="596.26" cy="97.2" r="2.75" fill="#ff1414"/>
<circle cx="609.02" cy="94.2" r="2.75" fill="#ff1414"/>
<circle cx="621.78" cy="90.7" r="2.75" fill="#ff1414"/>
<circle cx="634.54" cy="85.2" r="2.75" fill="#ff1414"/>
<circle cx="647.3" cy="83.7" r="2.75" fill="#ff1414"/>
<circle cx="660.06" cy="79" r="2.75" fill="#ff1414"/>
<circle cx="672.82" cy="74.6" r="2.75" fill="#ff1414"/>
<path d="M391.2 236.4 L391.95 234.91 L392.7 233.71 L393.45 232.77 L394.2 231.98 L394.95 231.23 L395.7 230.42 L396.45 229.44 L397.2 228.19 L397.95 226.34 L398.7 223.67 L399.45 220.52 L400.2 217.26 L400.95 214.11 L401.7 210.78 L402.45 207.3 L403.2 203.75 L403.95 200.2 L404.7 196.72 L405.45 193.35 L406.2 189.98 L406.95 186.63 L407.7 183.28 L408.45 179.95 L409.2 176.62 L409.95 173.31 L410.7 170 L411.45 166.7 L412.2 163.42 L412.95 160.15 L413.7 156.88 L414.45 153.63 L415.2 150.39 L415.95 147.16 L416.7 143.93 L417.45 140.73 L418.2 137.52 L418.95 134.29 L419.7 131.04 L420.45 127.79 L421.2 124.54 L421.95 121.28 L422.7 118.04 L423.45 114.82 L424.2 111.62 L424.95 108.45 L425.7 105.32 L426.45 102.23 L427.2 99.19 L427.95 96.21 L428.7 93.28 L429.45 90.43 L430.2 87.65 L430.95 84.94 L431.7 82.24 L432.45 79.57 L433.2 76.92 L433.95 74.29 L434.7 71.7 L435.45 69.15 L436.2 66.64 L436.95 64.17 L437.7 61.75 L438.45 59.38 L439.2 57.07 L439.95 54.82 L440.7 52.63 L441.45 50.51 L442.2 48.46 L442.95 46.49 L443.7 44.55 L444.45 42.54 L445.2 40.48 L445.95 38.4 L446.7 36.31 L447.45 34.23 L448.2 32.2 L448.95 30.23 L449.7 28.34 L450.45 26.57 L451.2 24.92 L451.95 23.43 L452.7 22.11 L453.45 20.99 L454.2 20.1 L454.95 19.44 L455.7 19.06 L456.45 18.88 L457.2 18.73 L457.95 18.61 L458.7 18.53 L459.45 18.5 L460.2 18.73 L460.95 19.45 L461.7 20.58 L462.45 22.08 L463.2 23.88 L463.95 25.91 L464.7 28.11 L465.45 30.42 L466.2 32.77 L466.95 35.1 L467.7 37.35 L468.45 39.45 L469.2 41.41 L469.95 43.38 L470.7 45.38 L471.45 47.41 L472.2 49.47 L472.95 51.56 L473.7 53.67 L474.45 55.82 L475.2 58 L475.95 60.21 L476.7 62.46 L477.45 64.73 L478.2 67.05 L478.95 69.4 L479.7 71.78 L480.45 74.21 L481.2 76.67 L481.95 79.25 L482.7 82.13 L483.45 85.2 L484.2 88.34 L484.95 91.44 L485.7 94.37 L486.45 97.01 L487.2 99.25 L487.95 101.05 L488.7 102.76 L489.45 104.37 L490.2 105.89 L490.95 107.28 L491.7 108.54 L492.45 109.64 L493.2 110.57 L493.95 111.31 L494.7 111.89 L495.45 112.45 L496.2 112.99 L496.95 113.5 L497.7 113.66 L498.45 113.8 L499.2 114.26 L499.95 115.38 L500.7 116.04 L501.45 116.2 L502.2 117.13 L502.95 117.38 L503.7 117.04 L504.45 116.92 L505.2 116.08 L505.95 115.51 L506.7 115.98 L507.45 116.62 L508.2 116.85 L508.95 116.92 L509.7 116.56 L510.45 116.18 L511.2 116.45 L511.95 116.28 L512.7 116.19 L513.45 116.28 L514.2 115.82 L514.95 115.53 L515.7 115.89 L516.45 116.65 L517.2 117.2 L517.95 116.85 L518.7 115.96 L519.45 115.54 L520.2 115.85 L520.95 115.82 L521.7 115.66 L522.45 116.24 L523.2 116.04 L523.95 115.63 L524.7 116.28 L525.45 116.71 L526.2 116.63 L526.95 116.49 L527.7 116.39 L528.45 116.65 L529.2 116.49 L529.95 116.07 L530.7 116.09 L531.45 115.67 L532.2 114.88 L532.95 114.35 L533.7 114.59 L534.45 114.64 L535.2 114.17 L535.95 114.45 L536.7 114.65 L537.45 113.66 L538.2 112.67 L538.95 113.18 L539.7 113.61 L540.45 113.08 L541.2 112.27 L541.95 111.78 L542.7 112.22 L543.45 112.56 L544.2 112.07 L544.95 111.48 L545.7 111.67 L546.45 111.92 L547.2 111.53 L547.95 110.69 L548.7 110.92 L549.45 111.49 L550.2 110.34 L550.95 109.4 L551.7 109.19 L552.45 109.23 L553.2 110.13 L553.95 110.08 L554.7 108.31 L555.45 107.59 L556.2 108.63 L556.95 109.05 L557.7 108.69 L558.45 107.97 L559.2 106.85 L559.95 106.05 L560.7 105.28 L561.45 105.3 L562.2 105.88 L562.95 106.16 L563.7 106.45 L564.45 105.56 L565.2 104.66 L565.95 105.27 L566.7 105.6 L567.45 104.41 L568.2 103.29 L568.95 103.75 L569.7 104.01 L570.45 102.97 L571.2 102.6 L571.95 103.1 L572.7 102.6 L573.45 101.71 L574.2 101.52 L574.95 101.66 L575.7 101.96 L576.45 102.31 L577.2 102.59 L577.95 101.87 L578.7 100.9 L579.45 101.37 L580.2 101.94 L580.95 101.85 L581.7 101.45 L582.45 100.46 L583.2 100.15 L583.95 100.34 L584.7 99.25 L585.45 98.76 L586.2 99.52 L586.95 99.32 L587.7 98.51 L588.45 97.79 L589.2 97.32 L589.95 97.4 L590.7 97.84 L591.45 97.47 L592.2 96.78 L592.95 96.95 L593.7 96.51 L594.45 96.29 L595.2 96.86 L595.95 96.3 L596.7 96.02 L597.45 96.55 L598.2 96.1 L598.95 95.76 L599.7 96.21 L600.45 96.17 L601.2 95.7 L601.95 95.33 L602.7 95.11 L603.45 94.97 L604.2 94.38 L604.95 94.54 L605.7 95.31 L606.45 94.83 L607.2 94.7 L607.95 95.14 L608.7 94.18 L609.45 93.25 L610.2 93.08 L610.95 92.92 L611.7 93.53 L612.45 93.56 L613.2 92.4 L613.95 91.93 L614.7 92.16 L615.45 91.85 L616.2 91.51 L616.95 91.2 L617.7 90.44 L618.45 90.44 L619.2 90.76 L619.95 90.81 L620.7 90.55 L621.45 90.16 L622.2 90.31 L622.95 90.03 L623.7 89.1 L624.45 88.35 L625.2 88.41 L625.95 88.67 L626.7 88.36 L627.45 88.55 L628.2 89.09 L628.95 89.2 L629.7 88.68 L630.45 87.28 L631.2 86.64 L631.95 87.13 L632.7 87.3 L633.45 87.02 L634.2 86.74 L634.95 86.81 L635.7 86.73 L636.45 86.34 L637.2 85.99 L637.95 85.68 L638.7 85.41 L639.45 85.44 L640.2 85.31 L640.95 85.18 L641.7 85.38 L642.45 85.15 L643.2 84.81 L643.95 84.34 L644.7 84.45 L645.45 84.88 L646.2 83.78 L646.95 82.58 L647.7 82.56 L648.45 83.45 L649.2 84.21 L649.95 83.81 L650.7 82.92 L651.45 82.21 L652.2 82.29 L652.95 82.95 L653.7 82.75 L654.45 81.8 L655.2 81.53 L655.95 81.13 L656.7 80.38 L657.45 80.29 L658.2 79.65 L658.95 79.06 L659.7 79.92 L660.45 80.26 L661.2 79.27 L661.95 79.12 L662.7 79.95 L663.45 80.11 L664.2 80.14 L664.95 79.88 L665.7 79.13 L666.45 78.9 L667.2 78.59 L667.95 78.24 L668.7 78.17 L669.45 78.38 L670.2 78.62 L670.95 78.16 L671.7 77.56 L672.45 77.46 L673.2 77.3 L673.95 76.77 L674.7 76.64 L675.45 76.75 L676.2 76.6 L676.95 76.62" fill="none" stroke="#0a0aff" stroke-width="1.15" stroke-linejoin="round"/>
<rect x="389.8" y="231.8" width="5" height="5" fill="#0a0aff"/>
<rect x="402.36" y="193.5" width="5" height="5" fill="#0a0aff"/>
<rect x="415.12" y="137.5" width="5" height="5" fill="#0a0aff"/>
<rect x="427.88" y="84.5" width="5" height="5" fill="#0a0aff"/>
<rect x="440.64" y="43.5" width="5" height="5" fill="#0a0aff"/>
<rect x="453.4" y="16.5" width="5" height="5" fill="#0a0aff"/>
<rect x="466.16" y="37.5" width="5" height="5" fill="#0a0aff"/>
<rect x="478.92" y="74.9" width="5" height="5" fill="#0a0aff"/>
<rect x="491.68" y="109" width="5" height="5" fill="#0a0aff"/>
<rect x="504.44" y="114.8" width="5" height="5" fill="#0a0aff"/>
<rect x="517.2" y="114" width="5" height="5" fill="#0a0aff"/>
<rect x="529.96" y="112.5" width="5" height="5" fill="#0a0aff"/>
<rect x="542.72" y="109.5" width="5" height="5" fill="#0a0aff"/>
<rect x="555.48" y="105" width="5" height="5" fill="#0a0aff"/>
<rect x="568.24" y="100.5" width="5" height="5" fill="#0a0aff"/>
<rect x="581" y="98" width="5" height="5" fill="#0a0aff"/>
<rect x="593.76" y="94" width="5" height="5" fill="#0a0aff"/>
<rect x="606.52" y="91" width="5" height="5" fill="#0a0aff"/>
<rect x="619.28" y="88" width="5" height="5" fill="#0a0aff"/>
<rect x="632.04" y="83.5" width="5" height="5" fill="#0a0aff"/>
<rect x="644.8" y="81" width="5" height="5" fill="#0a0aff"/>
<rect x="657.56" y="77.5" width="5" height="5" fill="#0a0aff"/>
<rect x="670.32" y="75" width="5" height="5" fill="#0a0aff"/>
<path d="M391.2 236.4 L391.95 234.89 L392.7 233.73 L393.45 232.85 L394.2 232.13 L394.95 231.45 L395.7 230.72 L396.45 229.83 L397.2 228.68 L397.95 226.94 L398.7 224.4 L399.45 221.38 L400.2 218.22 L400.95 215.14 L401.7 211.83 L402.45 208.34 L403.2 204.77 L403.95 201.19 L404.7 197.72 L405.45 194.37 L406.2 191.05 L406.95 187.74 L407.7 184.45 L408.45 181.18 L409.2 177.92 L409.95 174.67 L410.7 171.44 L411.45 168.22 L412.2 165.01 L412.95 161.81 L413.7 158.62 L414.45 155.43 L415.2 152.25 L415.95 149.07 L416.7 145.89 L417.45 142.72 L418.2 139.54 L418.95 136.33 L419.7 133.1 L420.45 129.85 L421.2 126.6 L421.95 123.35 L422.7 120.11 L423.45 116.89 L424.2 113.68 L424.95 110.5 L425.7 107.36 L426.45 104.26 L427.2 101.21 L427.95 98.22 L428.7 95.29 L429.45 92.43 L430.2 89.65 L430.95 86.94 L431.7 84.25 L432.45 81.58 L433.2 78.94 L433.95 76.33 L434.7 73.76 L435.45 71.22 L436.2 68.72 L436.95 66.26 L437.7 63.85 L438.45 61.49 L439.2 59.18 L439.95 56.92 L440.7 54.72 L441.45 52.58 L442.2 50.51 L442.95 48.5 L443.7 46.51 L444.45 44.42 L445.2 42.27 L445.95 40.07 L446.7 37.85 L447.45 35.65 L448.2 33.48 L448.95 31.38 L449.7 29.37 L450.45 27.48 L451.2 25.75 L451.95 24.19 L452.7 22.83 L453.45 21.71 L454.2 20.85 L454.95 20.27 L455.7 20.01 L456.45 20.03 L457.2 20.16 L457.95 20.37 L458.7 20.65 L459.45 20.98 L460.2 21.6 L460.95 22.83 L461.7 24.58 L462.45 26.77 L463.2 29.3 L463.95 32.09 L464.7 35.07 L465.45 38.13 L466.2 41.21 L466.95 44.2 L467.7 47.04 L468.45 49.63 L469.2 51.99 L469.95 54.34 L470.7 56.69 L471.45 59.04 L472.2 61.39 L472.95 63.74 L473.7 66.08 L474.45 68.41 L475.2 70.73 L475.95 73.03 L476.7 75.31 L477.45 77.58 L478.2 79.81 L478.95 82.03 L479.7 84.21 L480.45 86.37 L481.2 88.49 L481.95 90.61 L482.7 92.8 L483.45 95.03 L484.2 97.22 L484.95 99.33 L485.7 101.28 L486.45 103.02 L487.2 104.5 L487.95 105.7 L488.7 106.79 L489.45 107.81 L490.2 108.75 L490.95 109.61 L491.7 110.4 L492.45 111.12 L493.2 111.76 L493.95 112.34 L494.7 112.86 L495.45 113.38 L496.2 113.89 L496.95 114.4 L497.7 115.55 L498.45 116.2 L499.2 116.78 L499.95 117.19 L500.7 117.45 L501.45 116.97 L502.2 116.6 L502.95 116.76 L503.7 117.53 L504.45 118.77 L505.2 119.11 L505.95 118.48 L506.7 118.21 L507.45 118.09 L508.2 117.64 L508.95 117.61 L509.7 117.66 L510.45 117.49 L511.2 117.96 L511.95 118.19 L512.7 117.64 L513.45 117.1 L514.2 117.65 L514.95 118.41 L515.7 118.28 L516.45 118.68 L517.2 118.63 L517.95 117.55 L518.7 117.4 L519.45 118.56 L520.2 118.77 L520.95 117.61 L521.7 117.56 L522.45 118.25 L523.2 118.66 L523.95 118.63 L524.7 117.93 L525.45 117.29 L526.2 117.49 L526.95 118.03 L527.7 116.93 L528.45 115.84 L529.2 116.54 L529.95 117.64 L530.7 118.1 L531.45 117.44 L532.2 117.09 L532.95 117.72 L533.7 117.9 L534.45 117.45 L535.2 117.34 L535.95 117 L536.7 116.36 L537.45 116.18 L538.2 115.83 L538.95 115.71 L539.7 115.73 L540.45 115.4 L541.2 115.85 L541.95 115.95 L542.7 114.91 L543.45 114.18 L544.2 114.28 L544.95 114.69 L545.7 114.69 L546.45 114.47 L547.2 114.04 L547.95 113.32 L548.7 112.54 L549.45 112.1 L550.2 112.42 L550.95 112.25 L551.7 111.87 L552.45 112.13 L553.2 110.99 L553.95 109.36 L554.7 109.23 L555.45 109.56 L556.2 110.63 L556.95 110.97 L557.7 109.54 L558.45 108.64 L559.2 108.48 L559.95 108.49 L560.7 108.68 L561.45 108.16 L562.2 107.46 L562.95 107.23 L563.7 106.56 L564.45 106.46 L565.2 106.85 L565.95 106.09 L566.7 104.81 L567.45 104.26 L568.2 104.31 L568.95 104.69 L569.7 104.56 L570.45 103.81 L571.2 103.95 L571.95 104.33 L572.7 104.15 L573.45 104.22 L574.2 104.34 L574.95 104.02 L575.7 103.72 L576.45 103.87 L577.2 103.31 L577.95 102.35 L578.7 102.54 L579.45 102.43 L580.2 101.66 L580.95 100.88 L581.7 100.46 L582.45 100.8 L583.2 101.21 L583.95 101.07 L584.7 100.93 L585.45 101.49 L586.2 101.31 L586.95 100.36 L587.7 99.73 L588.45 99.25 L589.2 98.98 L589.95 99.15 L590.7 99.35 L591.45 98.84 L592.2 98.2 L592.95 98.1 L593.7 98.16 L594.45 98.84 L595.2 99.54 L595.95 98.86 L596.7 97.43 L597.45 96.31 L598.2 95.8 L598.95 96.2 L599.7 96.88 L600.45 96.77 L601.2 96.45 L601.95 96.33 L602.7 96.73 L603.45 96.9 L604.2 96.03 L604.95 95.33 L605.7 95.47 L606.45 95.57 L607.2 94.78 L607.95 93.94 L608.7 93.59 L609.45 93.85 L610.2 95.31 L610.95 95.85 L611.7 94.81 L612.45 94.54 L613.2 94.15 L613.95 93.26 L614.7 93.18 L615.45 93.14 L616.2 93.46 L616.95 93.55 L617.7 92.6 L618.45 92.62 L619.2 92.79 L619.95 92.29 L620.7 92.45 L621.45 92.66 L622.2 92.33 L622.95 92.14 L623.7 91.38 L624.45 90.68 L625.2 91.86 L625.95 92.68 L626.7 91.93 L627.45 90.65 L628.2 89.4 L628.95 89 L629.7 88.78 L630.45 88.9 L631.2 89.1 L631.95 88.5 L632.7 87.66 L633.45 87.13 L634.2 87.49 L634.95 87.71 L635.7 87.16 L636.45 87.5 L637.2 87.93 L637.95 86.82 L638.7 85.96 L639.45 86.56 L640.2 87.87 L640.95 88.31 L641.7 87.14 L642.45 86 L643.2 86.15 L643.95 86.38 L644.7 86.21 L645.45 86.83 L646.2 86.95 L646.95 86.19 L647.7 86 L648.45 86.26 L649.2 85.81 L649.95 84.99 L650.7 84.85 L651.45 84.26 L652.2 83.61 L652.95 83.66 L653.7 83.29 L654.45 82.37 L655.2 81.79 L655.95 82.47 L656.7 83.97 L657.45 84.42 L658.2 83.87 L658.95 83.25 L659.7 82.53 L660.45 82.39 L661.2 82.34 L661.95 81.71 L662.7 81.69 L663.45 82.23 L664.2 82.11 L664.95 82 L665.7 82.44 L666.45 82.86 L667.2 83.14 L667.95 82.86 L668.7 82.55 L669.45 82.65 L670.2 82.49 L670.95 82.22 L671.7 82.57 L672.45 83.28 L673.2 83.74 L673.95 83.25 L674.7 82.14 L675.45 82.04 L676.2 82.57 L676.95 82.86" fill="none" stroke="#0a0aff" stroke-width="1.15" stroke-linejoin="round"/>
<circle cx="392.3" cy="234.3" r="2.75" fill="#0a0aff"/>
<circle cx="404.86" cy="197" r="2.75" fill="#0a0aff"/>
<circle cx="417.62" cy="142" r="2.75" fill="#0a0aff"/>
<circle cx="430.38" cy="89" r="2.75" fill="#0a0aff"/>
<circle cx="443.14" cy="48" r="2.75" fill="#0a0aff"/>
<circle cx="455.9" cy="20" r="2.75" fill="#0a0aff"/>
<circle cx="468.66" cy="50.3" r="2.75" fill="#0a0aff"/>
<circle cx="481.42" cy="89.1" r="2.75" fill="#0a0aff"/>
<circle cx="494.18" cy="112.5" r="2.75" fill="#0a0aff"/>
<circle cx="506.94" cy="118.5" r="2.75" fill="#0a0aff"/>
<circle cx="519.7" cy="117.8" r="2.75" fill="#0a0aff"/>
<circle cx="532.46" cy="117" r="2.75" fill="#0a0aff"/>
<circle cx="545.22" cy="114.2" r="2.75" fill="#0a0aff"/>
<circle cx="557.98" cy="109" r="2.75" fill="#0a0aff"/>
<circle cx="570.74" cy="104" r="2.75" fill="#0a0aff"/>
<circle cx="583.5" cy="101.5" r="2.75" fill="#0a0aff"/>
<circle cx="596.26" cy="98" r="2.75" fill="#0a0aff"/>
<circle cx="609.02" cy="95" r="2.75" fill="#0a0aff"/>
<circle cx="621.78" cy="92" r="2.75" fill="#0a0aff"/>
<circle cx="634.54" cy="88" r="2.75" fill="#0a0aff"/>
<circle cx="647.3" cy="85.5" r="2.75" fill="#0a0aff"/>
<circle cx="660.06" cy="82.5" r="2.75" fill="#0a0aff"/>
<circle cx="672.82" cy="82.8" r="2.75" fill="#0a0aff"/>
<path d="M391.2 236.4 L391.95 234.9 L392.7 233.72 L393.45 232.8 L394.2 231.9 L394.95 230.87 L395.7 229.81 L396.45 228.63 L397.2 227.21 L397.95 225.3 L398.7 222.79 L399.45 219.97 L400.2 217.1 L400.95 214.39 L401.7 211.67 L402.45 208.9 L403.2 206.1 L403.95 203.24 L404.7 200.33 L405.45 197.36 L406.2 194.34 L406.95 191.26 L407.7 188.15 L408.45 185 L409.2 181.81 L409.95 178.6 L410.7 175.36 L411.45 172.11 L412.2 168.85 L412.95 165.58 L413.7 162.31 L414.45 159.04 L415.2 155.78 L415.95 152.54 L416.7 149.32 L417.45 146.12 L418.2 142.94 L418.95 139.74 L419.7 136.54 L420.45 133.32 L421.2 130.11 L421.95 126.89 L422.7 123.67 L423.45 120.46 L424.2 117.25 L424.95 114.06 L425.7 110.88 L426.45 107.73 L427.2 104.59 L427.95 101.48 L428.7 98.39 L429.45 95.34 L430.2 92.32 L430.95 89.31 L431.7 86.26 L432.45 83.18 L433.2 80.08 L433.95 76.97 L434.7 73.87 L435.45 70.79 L436.2 67.74 L436.95 64.73 L437.7 61.78 L438.45 58.91 L439.2 56.11 L439.95 53.41 L440.7 50.82 L441.45 48.35 L442.2 46.02 L442.95 43.83 L443.7 41.73 L444.45 39.58 L445.2 37.38 L445.95 35.17 L446.7 32.96 L447.45 30.78 L448.2 28.66 L448.95 26.61 L449.7 24.67 L450.45 22.85 L451.2 21.18 L451.95 19.68 L452.7 18.38 L453.45 17.3 L454.2 16.46 L454.95 15.89 L455.7 15.62 L456.45 15.58 L457.2 15.55 L457.95 15.52 L458.7 15.51 L459.45 15.5 L460.2 15.78 L460.95 16.65 L461.7 18.02 L462.45 19.82 L463.2 21.95 L463.95 24.32 L464.7 26.86 L465.45 29.47 L466.2 32.08 L466.95 34.59 L467.7 36.92 L468.45 38.98 L469.2 40.77 L469.95 42.44 L470.7 44.02 L471.45 45.53 L472.2 46.99 L472.95 48.41 L473.7 49.82 L474.45 51.23 L475.2 52.65 L475.95 54.11 L476.7 55.63 L477.45 57.21 L478.2 58.89 L478.95 60.67 L479.7 62.57 L480.45 64.62 L481.2 66.82 L481.95 69.31 L482.7 72.34 L483.45 75.79 L484.2 79.53 L484.95 83.43 L485.7 87.34 L486.45 91.14 L487.2 94.68 L487.95 98.03 L488.7 101.6 L489.45 104.91 L490.2 107.38 L490.95 108.69 L491.7 109.63 L492.45 110.38 L493.2 110.99 L493.95 111.54 L494.7 112.07 L495.45 112.6 L496.2 113.13 L496.95 113.66 L497.7 115.7 L498.45 115.7 L499.2 115.84 L499.95 116.65 L500.7 117.42 L501.45 117.98 L502.2 117.86 L502.95 117.45 L503.7 117.58 L504.45 117.91 L505.2 118.1 L505.95 117.92 L506.7 117.03 L507.45 116.41 L508.2 116.46 L508.95 116.67 L509.7 117.42 L510.45 117.48 L511.2 117.14 L511.95 118.01 L512.7 118.51 L513.45 118.52 L514.2 119.18 L514.95 118.82 L515.7 117.72 L516.45 117.88 L517.2 118.1 L517.95 117.99 L518.7 117.74 L519.45 116.92 L520.2 116.38 L520.95 116.19 L521.7 116.21 L522.45 116.06 L523.2 115.42 L523.95 115.52 L524.7 116.15 L525.45 116.15 L526.2 115.35 L526.95 114.28 L527.7 114.08 L528.45 114.44 L529.2 114.42 L529.95 114.43 L530.7 114.61 L531.45 114.29 L532.2 113.86 L532.95 113.89 L533.7 113.78 L534.45 113.59 L535.2 113.8 L535.95 113.63 L536.7 113.08 L537.45 112.91 L538.2 113.13 L538.95 113.37 L539.7 113.16 L540.45 112.8 L541.2 112.55 L541.95 112.42 L542.7 112.32 L543.45 111.18 L544.2 110.45 L544.95 111.27 L545.7 110.99 L546.45 110 L547.2 109.79 L547.95 110.3 L548.7 111.11 L549.45 110.24 L550.2 109 L550.95 109.11 L551.7 109.59 L552.45 109.55 L553.2 107.97 L553.95 106.89 L554.7 107.51 L555.45 107.69 L556.2 106.84 L556.95 106.37 L557.7 107.48 L558.45 107.71 L559.2 106.73 L559.95 106.78 L560.7 107.31 L561.45 107.75 L562.2 107.15 L562.95 106.46 L563.7 106.69 L564.45 106.25 L565.2 105.67 L565.95 105.58 L566.7 104.75 L567.45 104.6 L568.2 105.56 L568.95 105.07 L569.7 104.37 L570.45 104.14 L571.2 103.25 L571.95 102.92 L572.7 103.3 L573.45 103.55 L574.2 104.02 L574.95 104.19 L575.7 103.72 L576.45 103.7 L577.2 103.42 L577.95 102.73 L578.7 102.52 L579.45 102.65 L580.2 103.13 L580.95 103.08 L581.7 102.14 L582.45 101.51 L583.2 101.54 L583.95 101.7 L584.7 101.88 L585.45 101.47 L586.2 101.16 L586.95 101.71 L587.7 101.53 L588.45 101.05 L589.2 101.07 L589.95 100.55 L590.7 100.08 L591.45 99.89 L592.2 99.42 L592.95 99.25 L593.7 99.79 L594.45 100.63 L595.2 100.43 L595.95 99.79 L596.7 99.72 L597.45 99.28 L598.2 99.04 L598.95 99.13 L599.7 99.38 L600.45 99.65 L601.2 98.48 L601.95 97.62 L602.7 97.99 L603.45 97.62 L604.2 96.3 L604.95 95.8 L605.7 97.09 L606.45 97.96 L607.2 97.8 L607.95 97.95 L608.7 97.77 L609.45 97.13 L610.2 96.58 L610.95 95.88 L611.7 95.88 L612.45 96.46 L613.2 95.86 L613.95 95.05 L614.7 95.23 L615.45 95.08 L616.2 94.79 L616.95 94.93 L617.7 94.34 L618.45 93.43 L619.2 94.01 L619.95 94.67 L620.7 93.96 L621.45 93.95 L622.2 94.48 L622.95 93.88 L623.7 92.88 L624.45 92.77 L625.2 93.22 L625.95 93.07 L626.7 92.04 L627.45 91.7 L628.2 92.53 L628.95 92.73 L629.7 91.81 L630.45 91.09 L631.2 91.05 L631.95 91.13 L632.7 90.65 L633.45 89.85 L634.2 89.75 L634.95 89.54 L635.7 89.13 L636.45 89.4 L637.2 89.39 L637.95 89.18 L638.7 88.86 L639.45 88.32 L640.2 88.58 L640.95 89.07 L641.7 89.21 L642.45 88.85 L643.2 87.58 L643.95 87.12 L644.7 87.92 L645.45 88.84 L646.2 89.25 L646.95 88.28 L647.7 87.3 L648.45 87.15 L649.2 86.28 L649.95 86.36 L650.7 87.56 L651.45 87.26 L652.2 86.51 L652.95 86.58 L653.7 86.51 L654.45 85.97 L655.2 85.14 L655.95 83.75 L656.7 83.42 L657.45 84.64 L658.2 84.93 L658.95 84.08 L659.7 83.41 L660.45 82.86 L661.2 82.8 L661.95 83.37 L662.7 83.28 L663.45 82.74 L664.2 82.65 L664.95 82.67 L665.7 82.46 L666.45 81.75 L667.2 81.07 L667.95 81.79 L668.7 82.3 L669.45 81.22 L670.2 80.82 L670.95 81.38 L671.7 81.47 L672.45 80.53 L673.2 79.64 L673.95 79.59 L674.7 79.21 L675.45 79.2 L676.2 79.71 L676.95 79.59" fill="none" stroke="#288c19" stroke-width="1.15" stroke-linejoin="round"/>
<rect x="389.8" y="232.4" width="5" height="5" fill="#288c19"/>
<rect x="402.36" y="197.2" width="5" height="5" fill="#288c19"/>
<rect x="415.12" y="142.9" width="5" height="5" fill="#288c19"/>
<rect x="427.88" y="89.1" width="5" height="5" fill="#288c19"/>
<rect x="440.64" y="40.8" width="5" height="5" fill="#288c19"/>
<rect x="453.4" y="13.1" width="5" height="5" fill="#288c19"/>
<rect x="466.16" y="37" width="5" height="5" fill="#288c19"/>
<rect x="478.92" y="65" width="5" height="5" fill="#288c19"/>
<rect x="491.68" y="109.2" width="5" height="5" fill="#288c19"/>
<rect x="504.44" y="115.5" width="5" height="5" fill="#288c19"/>
<rect x="517.2" y="114.7" width="5" height="5" fill="#288c19"/>
<rect x="529.96" y="111.3" width="5" height="5" fill="#288c19"/>
<rect x="542.72" y="108.5" width="5" height="5" fill="#288c19"/>
<rect x="555.48" y="104.8" width="5" height="5" fill="#288c19"/>
<rect x="568.24" y="102" width="5" height="5" fill="#288c19"/>
<rect x="581" y="99.5" width="5" height="5" fill="#288c19"/>
<rect x="593.76" y="96.5" width="5" height="5" fill="#288c19"/>
<rect x="606.52" y="94" width="5" height="5" fill="#288c19"/>
<rect x="619.28" y="91.5" width="5" height="5" fill="#288c19"/>
<rect x="632.04" y="87.5" width="5" height="5" fill="#288c19"/>
<rect x="644.8" y="85" width="5" height="5" fill="#288c19"/>
<rect x="657.56" y="80.5" width="5" height="5" fill="#288c19"/>
<rect x="670.32" y="77.8" width="5" height="5" fill="#288c19"/>
<path d="M391.2 236.4 L391.95 234.92 L392.7 233.66 L393.45 232.58 L394.2 231.49 L394.95 230.24 L395.7 228.95 L396.45 227.5 L397.2 225.76 L397.95 223.41 L398.7 220.31 L399.45 216.83 L400.2 213.33 L400.95 210.05 L401.7 206.78 L402.45 203.48 L403.2 200.15 L403.95 196.83 L404.7 193.51 L405.45 190.19 L406.2 186.87 L406.95 183.53 L407.7 180.19 L408.45 176.84 L409.2 173.48 L409.95 170.13 L410.7 166.78 L411.45 163.43 L412.2 160.09 L412.95 156.76 L413.7 153.44 L414.45 150.14 L415.2 146.86 L415.95 143.59 L416.7 140.34 L417.45 137.13 L418.2 133.93 L418.95 130.74 L419.7 127.55 L420.45 124.37 L421.2 121.21 L421.95 118.05 L422.7 114.91 L423.45 111.78 L424.2 108.67 L424.95 105.58 L425.7 102.5 L426.45 99.44 L427.2 96.41 L427.95 93.39 L428.7 90.4 L429.45 87.44 L430.2 84.5 L430.95 81.56 L431.7 78.56 L432.45 75.52 L433.2 72.44 L433.95 69.35 L434.7 66.26 L435.45 63.19 L436.2 60.16 L436.95 57.18 L437.7 54.28 L438.45 51.45 L439.2 48.73 L439.95 46.13 L440.7 43.67 L441.45 41.36 L442.2 39.22 L442.95 37.26 L443.7 35.45 L444.45 33.62 L445.2 31.79 L445.95 29.97 L446.7 28.17 L447.45 26.42 L448.2 24.72 L448.95 23.1 L449.7 21.56 L450.45 20.11 L451.2 18.79 L451.95 17.59 L452.7 16.54 L453.45 15.64 L454.2 14.92 L454.95 14.38 L455.7 14.05 L456.45 13.88 L457.2 13.73 L457.95 13.61 L458.7 13.53 L459.45 13.5 L460.2 13.64 L460.95 14.08 L461.7 14.78 L462.45 15.7 L463.2 16.82 L463.95 18.1 L464.7 19.5 L465.45 20.99 L466.2 22.52 L466.95 24.08 L467.7 25.62 L468.45 27.1 L469.2 28.53 L469.95 30 L470.7 31.51 L471.45 33.06 L472.2 34.67 L472.95 36.33 L473.7 38.06 L474.45 39.85 L475.2 41.71 L475.95 43.64 L476.7 45.64 L477.45 47.73 L478.2 49.9 L478.95 52.17 L479.7 54.52 L480.45 56.98 L481.2 59.53 L481.95 62.38 L482.7 65.94 L483.45 69.96 L484.2 74.14 L484.95 78.21 L485.7 81.87 L486.45 84.83 L487.2 87.3 L487.95 89.54 L488.7 91.13 L489.45 91.88 L490.2 92.42 L490.95 92.85 L491.7 93.19 L492.45 93.49 L493.2 93.75 L493.95 94.02 L494.7 94.29 L495.45 94.57 L496.2 94.84 L496.95 95.1 L497.7 94.97 L498.45 95.23 L499.2 95.34 L499.95 95.6 L500.7 96.68 L501.45 98.06 L502.2 97.69 L502.95 96.39 L503.7 96.17 L504.45 96.26 L505.2 96.15 L505.95 96.46 L506.7 97.29 L507.45 97.95 L508.2 97.68 L508.95 97.06 L509.7 96.81 L510.45 97.16 L511.2 97.89 L511.95 98.6 L512.7 98.91 L513.45 98.87 L514.2 99.17 L514.95 99.2 L515.7 98.33 L516.45 97.4 L517.2 97.85 L517.95 99.41 L518.7 100.04 L519.45 99.72 L520.2 99.37 L520.95 98.86 L521.7 98.43 L522.45 98.69 L523.2 99.29 L523.95 99.16 L524.7 98.55 L525.45 98.49 L526.2 98.79 L526.95 98.48 L527.7 98.37 L528.45 98.95 L529.2 98.65 L529.95 98.4 L530.7 98.9 L531.45 98.62 L532.2 97.93 L532.95 97.4 L533.7 96.66 L534.45 95.85 L535.2 95.89 L535.95 96.35 L536.7 96.13 L537.45 96.1 L538.2 95.75 L538.95 95.28 L539.7 95.62 L540.45 96 L541.2 96.45 L541.95 96.6 L542.7 96.09 L543.45 95.37 L544.2 94.87 L544.95 94.84 L545.7 94.53 L546.45 93.93 L547.2 93.75 L547.95 93.7 L548.7 93.67 L549.45 93.35 L550.2 92.58 L550.95 92.37 L551.7 92.21 L552.45 91.33 L553.2 91.64 L553.95 91.76 L554.7 90.37 L555.45 90.53 L556.2 91.09 L556.95 91.26 L557.7 91.48 L558.45 90.87 L559.2 91.68 L559.95 92.68 L560.7 92.03 L561.45 91.36 L562.2 91.01 L562.95 90.94 L563.7 90.99 L564.45 90.62 L565.2 90.9 L565.95 91.25 L566.7 90.63 L567.45 90.6 L568.2 90.67 L568.95 90.66 L569.7 91.4 L570.45 91.1 L571.2 90.21 L571.95 90.26 L572.7 90.21 L573.45 90.16 L574.2 90.26 L574.95 90.34 L575.7 90.42 L576.45 90.24 L577.2 90.23 L577.95 90.18 L578.7 89.8 L579.45 89.06 L580.2 88.3 L580.95 88.22 L581.7 88.91 L582.45 89.73 L583.2 90.08 L583.95 89.48 L584.7 88.38 L585.45 87.84 L586.2 87.77 L586.95 87.97 L587.7 88.39 L588.45 87.86 L589.2 86.61 L589.95 86.61 L590.7 87.34 L591.45 87 L592.2 86.62 L592.95 86.64 L593.7 85.99 L594.45 85.35 L595.2 84.65 L595.95 84.31 L596.7 84.64 L597.45 84.15 L598.2 83.54 L598.95 83.65 L599.7 83.79 L600.45 83.34 L601.2 82.24 L601.95 81.29 L602.7 80.84 L603.45 80.53 L604.2 80.69 L604.95 80.66 L605.7 80.6 L606.45 80.82 L607.2 80.18 L607.95 79.33 L608.7 78.7 L609.45 78.46 L610.2 78.83 L610.95 78.34 L611.7 77.5 L612.45 77.81 L613.2 78.13 L613.95 77.92 L614.7 77.14 L615.45 75.91 L616.2 76.15 L616.95 77.26 L617.7 76.59 L618.45 75.54 L619.2 75.69 L619.95 75.19 L620.7 73.84 L621.45 73.15 L622.2 73.7 L622.95 74.59 L623.7 74.58 L624.45 74.21 L625.2 74.2 L625.95 73.41 L626.7 72.12 L627.45 71.85 L628.2 71.57 L628.95 71.02 L629.7 71.05 L630.45 71.08 L631.2 70.46 L631.95 69.71 L632.7 70.34 L633.45 70.9 L634.2 69.49 L634.95 68.64 L635.7 69.5 L636.45 70.04 L637.2 69.49 L637.95 69.04 L638.7 69.17 L639.45 68.56 L640.2 67.92 L640.95 68.16 L641.7 68.72 L642.45 69.2 L643.2 69.09 L643.95 68.86 L644.7 68.86 L645.45 68.75 L646.2 68.17 L646.95 66.91 L647.7 66.64 L648.45 67.07 L649.2 66.54 L649.95 66.29 L650.7 66.25 L651.45 65.73 L652.2 65.77 L652.95 65.32 L653.7 64.19 L654.45 65 L655.2 65.71 L655.95 64.45 L656.7 63.64 L657.45 64.03 L658.2 63.72 L658.95 62.45 L659.7 62.04 L660.45 62.3 L661.2 62.4 L661.95 62.4 L662.7 62.14 L663.45 61.7 L664.2 61.36 L664.95 60.99 L665.7 60.85 L666.45 61.06 L667.2 60.83 L667.95 60.95 L668.7 61.64 L669.45 61.03 L670.2 60.47 L670.95 60.92 L671.7 60.85 L672.45 60.81 L673.2 60.86 L673.95 60.76 L674.7 60.51 L675.45 60.17 L676.2 60.79 L676.95 61.43" fill="none" stroke="#288c19" stroke-width="1.15" stroke-linejoin="round"/>
<circle cx="392.3" cy="233.4" r="2.75" fill="#288c19"/>
<circle cx="404.86" cy="192.8" r="2.75" fill="#288c19"/>
<circle cx="417.62" cy="136.4" r="2.75" fill="#288c19"/>
<circle cx="430.38" cy="83.8" r="2.75" fill="#288c19"/>
<circle cx="443.14" cy="36.8" r="2.75" fill="#288c19"/>
<circle cx="455.9" cy="14" r="2.75" fill="#288c19"/>
<circle cx="468.66" cy="27.5" r="2.75" fill="#288c19"/>
<circle cx="481.42" cy="60.3" r="2.75" fill="#288c19"/>
<circle cx="494.18" cy="94.1" r="2.75" fill="#288c19"/>
<circle cx="506.94" cy="97.7" r="2.75" fill="#288c19"/>
<circle cx="519.7" cy="99" r="2.75" fill="#288c19"/>
<circle cx="532.46" cy="97.5" r="2.75" fill="#288c19"/>
<circle cx="545.22" cy="94.5" r="2.75" fill="#288c19"/>
<circle cx="557.98" cy="91.2" r="2.75" fill="#288c19"/>
<circle cx="570.74" cy="91" r="2.75" fill="#288c19"/>
<circle cx="583.5" cy="88.2" r="2.75" fill="#288c19"/>
<circle cx="596.26" cy="85.2" r="2.75" fill="#288c19"/>
<circle cx="609.02" cy="78.4" r="2.75" fill="#288c19"/>
<circle cx="621.78" cy="75.3" r="2.75" fill="#288c19"/>
<circle cx="634.54" cy="69.9" r="2.75" fill="#288c19"/>
<circle cx="647.3" cy="67.8" r="2.75" fill="#288c19"/>
<circle cx="660.06" cy="62.3" r="2.75" fill="#288c19"/>
<circle cx="672.82" cy="60.7" r="2.75" fill="#288c19"/>
</g>
<rect x="391" y="6.5" width="286.8" height="230" fill="none" stroke="#000" stroke-width="1.2"/>
<text x="391" y="252.6" text-anchor="middle" font-size="14.0">0</text>
<path d="M419.68 236.5 v-2.7 M419.68 6.5 v2.7" stroke="#000" stroke-width="1.2"/>
<path d="M448.36 236.5 v-4.8 M448.36 6.5 v4.8" stroke="#000" stroke-width="1.2"/>
<text x="448.36" y="252.6" text-anchor="middle" font-size="14.0">3</text>
<path d="M477.04 236.5 v-2.7 M477.04 6.5 v2.7" stroke="#000" stroke-width="1.2"/>
<path d="M505.72 236.5 v-4.8 M505.72 6.5 v4.8" stroke="#000" stroke-width="1.2"/>
<text x="505.72" y="252.6" text-anchor="middle" font-size="14.0">6</text>
<path d="M534.4 236.5 v-2.7 M534.4 6.5 v2.7" stroke="#000" stroke-width="1.2"/>
<path d="M563.08 236.5 v-4.8 M563.08 6.5 v4.8" stroke="#000" stroke-width="1.2"/>
<text x="563.08" y="252.6" text-anchor="middle" font-size="14.0">9</text>
<path d="M591.76 236.5 v-2.7 M591.76 6.5 v2.7" stroke="#000" stroke-width="1.2"/>
<path d="M620.44 236.5 v-4.8 M620.44 6.5 v4.8" stroke="#000" stroke-width="1.2"/>
<text x="620.44" y="252.6" text-anchor="middle" font-size="14.0">12</text>
<path d="M649.12 236.5 v-2.7 M649.12 6.5 v2.7" stroke="#000" stroke-width="1.2"/>
<text x="677.8" y="252.6" text-anchor="middle" font-size="14.0">15</text>
<text x="385.4" y="241.1" text-anchor="end" font-size="14.0">0</text>
<path d="M391 213.95 h2.7" stroke="#000" stroke-width="1.2"/>
<path d="M677.8 213.5 h-2.7" stroke="#000" stroke-width="1.2"/>
<path d="M391 191.4 h4.8" stroke="#000" stroke-width="1.2"/>
<path d="M677.8 190.5 h-4.8" stroke="#000" stroke-width="1.2"/>
<text x="385.4" y="196" text-anchor="end" font-size="14.0">23</text>
<path d="M391 168.85 h2.7" stroke="#000" stroke-width="1.2"/>
<path d="M677.8 167.5 h-2.7" stroke="#000" stroke-width="1.2"/>
<path d="M391 146.3 h4.8" stroke="#000" stroke-width="1.2"/>
<path d="M677.8 144.5 h-4.8" stroke="#000" stroke-width="1.2"/>
<text x="385.4" y="150.9" text-anchor="end" font-size="14.0">46</text>
<path d="M391 123.75 h2.7" stroke="#000" stroke-width="1.2"/>
<path d="M677.8 121.5 h-2.7" stroke="#000" stroke-width="1.2"/>
<path d="M391 101.2 h4.8" stroke="#000" stroke-width="1.2"/>
<path d="M677.8 98.5 h-4.8" stroke="#000" stroke-width="1.2"/>
<text x="385.4" y="105.8" text-anchor="end" font-size="14.0">69</text>
<path d="M391 78.65 h2.7" stroke="#000" stroke-width="1.2"/>
<path d="M677.8 75.5 h-2.7" stroke="#000" stroke-width="1.2"/>
<path d="M391 56.1 h4.8" stroke="#000" stroke-width="1.2"/>
<path d="M677.8 52.5 h-4.8" stroke="#000" stroke-width="1.2"/>
<text x="385.4" y="60.7" text-anchor="end" font-size="14.0">92</text>
<path d="M391 33.55 h2.7" stroke="#000" stroke-width="1.2"/>
<path d="M677.8 29.5 h-2.7" stroke="#000" stroke-width="1.2"/>
<path d="M391 11 h4.8" stroke="#000" stroke-width="1.2"/>
<text x="385.4" y="15.6" text-anchor="end" font-size="14.0">115</text>
<text x="534.1" y="275.5" text-anchor="middle" font-size="14.05">Axial strain (%)</text>
<text transform="translate(359.6 121.6) rotate(-90)" text-anchor="middle" font-size="14.05">Deviatoric stress (kPa)</text>
<text x="400.4" y="22.5" font-size="17.0">(b)</text>
<rect x="493.8" y="130.6" width="179.2" height="100.8" fill="#fff" stroke="#444" stroke-width="0.8"/>
<path d="M496.3 135.8 H517" stroke="#000000" stroke-width="1.15"/>
<rect x="504.5" y="133.6" width="4.4" height="4.4" fill="#000000"/>
<text x="523.2" y="140" font-size="11.4">Zero magnetic field 1g #1</text>
<path d="M496.3 148.43 H517" stroke="#000000" stroke-width="1.15"/>
<circle cx="506.7" cy="148.43" r="2.4" fill="#000000"/>
<text x="523.2" y="152.63" font-size="11.4">Zero magnetic field 1g #2</text>
<path d="M496.3 161.06 H517" stroke="#0a0aff" stroke-width="1.15"/>
<rect x="504.5" y="158.86" width="4.4" height="4.4" fill="#0a0aff"/>
<text x="523.2" y="165.26" font-size="11.4">Saturated magnetic field 1g #1</text>
<path d="M496.3 173.69 H517" stroke="#0a0aff" stroke-width="1.15"/>
<circle cx="506.7" cy="173.69" r="2.4" fill="#0a0aff"/>
<text x="523.2" y="177.89" font-size="11.4">Saturated magnetic field 1g #2</text>
<path d="M496.3 186.32 H517" stroke="#ff1414" stroke-width="1.15"/>
<rect x="504.5" y="184.12" width="4.4" height="4.4" fill="#ff1414"/>
<text x="523.2" y="190.52" font-size="11.4">Saturated magnetic field 1/6g #1</text>
<path d="M496.3 198.95 H517" stroke="#ff1414" stroke-width="1.15"/>
<circle cx="506.7" cy="198.95" r="2.4" fill="#ff1414"/>
<text x="523.2" y="203.15" font-size="11.4">Saturated magnetic field 1/6g #2</text>
<path d="M496.3 211.58 H517" stroke="#288c19" stroke-width="1.15"/>
<rect x="504.5" y="209.38" width="4.4" height="4.4" fill="#288c19"/>
<text x="523.2" y="215.78" font-size="11.4">Saturated magnetic field 2g #1</text>
<path d="M496.3 224.21 H517" stroke="#288c19" stroke-width="1.15"/>
<circle cx="506.7" cy="224.21" r="2.4" fill="#288c19"/>
<text x="523.2" y="228.41" font-size="11.4">Saturated magnetic field 2g #2</text>
</g>
</svg>
</body>
</html>
